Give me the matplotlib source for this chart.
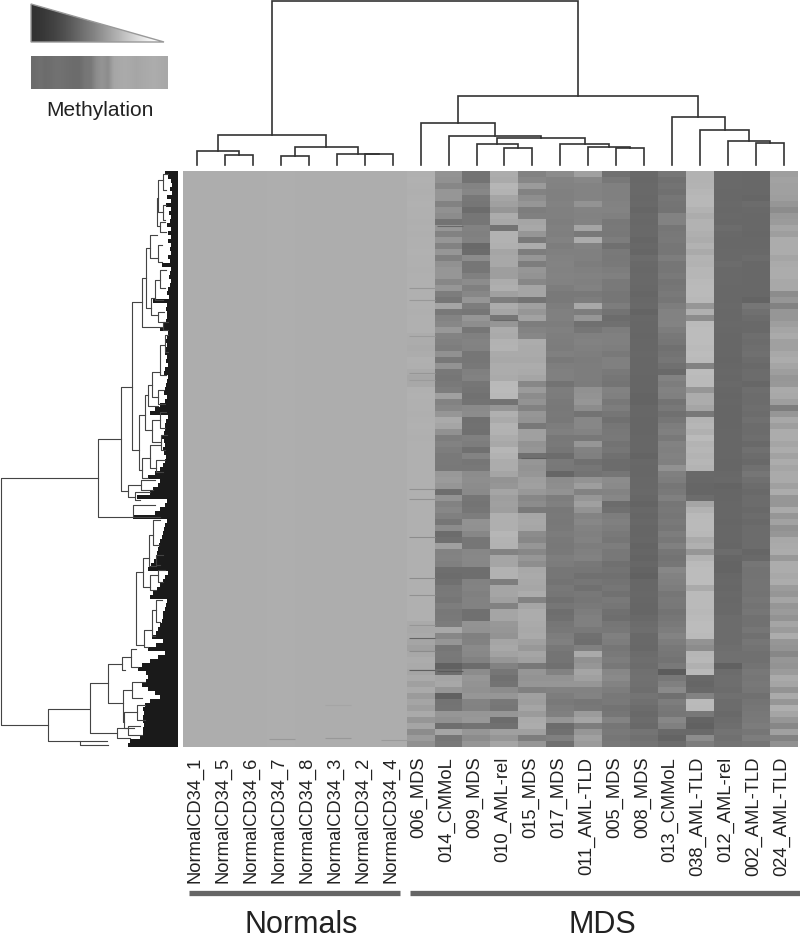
import numpy as np
import matplotlib
matplotlib.use("Agg")
import matplotlib.pyplot as plt
from matplotlib.patches import Polygon

plt.rcParams['font.family'] = ['Liberation Sans', 'DejaVu Sans']

# Sample names, in dendrogram order
sample_names = ["NormalCD34_1", "NormalCD34_5", "NormalCD34_6", "NormalCD34_7",
                "NormalCD34_8", "NormalCD34_3", "NormalCD34_2", "NormalCD34_4",
                "006_MDS", "014_CMMoL", "009_MDS", "010_AML-rel", "015_MDS", "017_MDS",
                "011_AML-TLD", "005_MDS", "008_MDS", "013_CMMoL", "038_AML-TLD",
                "012_AML-rel", "002_AML-TLD", "024_AML-TLD"]

# Grey level per row block (96 blocks, top to bottom), one list per MDS sample
mds_006 = [176,177,176,175,176,177,176,176,175,176,175,176,
           176,177,176,176,175,176,176,176,176,176,176,175,
           176,176,176,172,172,170,172,176,175,170,166,168,
           176,177,176,176,175,176,177,176,175,176,176,176,
           176,176,176,176,176,176,176,176,176,176,176,176,
           176,176,176,176,176,176,176,176,176,176,176,176,
           176,176,176,170,168,170,165,160,168,172,170,165,
           170,160,170,155,165,158,170,150,165,140,155,145]
mds_014 = [148,145,135,150,150,130,145,140,115,150,130,150,
           130,150,128,145,150,150,135,150,125,118,165,120,
           132,135,152,132,128,125,145,120,148,120,118,122,
           125,160,130,135,150,170,165,145,125,130,125,122,
           122,120,152,155,150,110,148,130,135,128,118,140,
           108,112,160,130,132,128,110,108,112,120,122,118,
           125,120,122,124,168,135,150,118,122,120,98,110,
           165,168,150,98,115,116,150,145,110,165,118,122]
mds_009 = [115,115,132,135,120,118,108,118,118,130,128,130,
           105,108,140,118,118,128,140,128,135,150,125,118,
           150,142,118,128,132,130,118,118,120,128,130,118,
           116,114,115,138,140,112,113,112,128,125,112,132,
           118,120,140,142,140,138,118,116,118,125,146,145,
           135,118,118,135,136,135,110,110,130,132,128,130,
           130,112,112,148,146,128,130,138,136,130,108,140,
           150,148,145,150,132,130,150,152,115,150,140,150]
mds_010 = [172,170,182,180,165,160,150,172,168,115,178,178,
           176,165,168,168,158,158,172,175,160,125,172,165,
           118,150,172,170,178,180,170,168,172,172,170,185,
           186,184,115,150,176,170,180,178,172,168,182,178,
           172,172,165,148,150,165,158,160,158,175,175,175,
           182,180,178,130,165,165,178,178,125,165,165,160,
           130,165,165,152,150,148,165,168,162,150,130,118,
           112,115,140,150,120,118,150,108,112,160,150,165]
mds_015 = [130,135,155,130,142,150,125,128,165,168,150,122,
           172,125,150,125,150,148,135,165,165,115,160,150,
           162,125,132,135,172,170,170,168,172,170,165,135,
           155,140,148,130,150,148,120,160,160,148,150,112,
           150,148,150,158,160,152,135,140,122,166,168,166,
           140,135,150,135,150,142,168,170,168,166,172,130,
           165,172,172,170,168,170,160,152,165,160,120,150,
           148,150,128,160,158,165,155,170,172,160,125,150]
mds_017 = [140,132,130,128,128,130,128,128,126,128,127,130,
           125,128,130,132,130,132,130,125,122,122,125,128,
           128,125,128,126,125,124,128,122,126,128,128,115,
           125,124,122,120,122,120,125,128,120,122,118,108,
           122,120,102,140,142,146,125,128,120,122,120,122,
           124,122,120,122,126,124,118,118,115,120,118,112,
           118,110,112,118,120,125,128,120,116,116,112,130,
           148,150,130,125,122,125,128,150,108,112,128,112]
mds_011 = [160,135,132,132,132,148,132,130,132,165,122,172,
           130,128,128,125,128,130,128,130,122,125,168,125,
           150,112,118,128,130,128,126,124,125,125,125,124,
           145,148,150,140,115,135,135,132,120,150,130,128,
           112,118,115,148,158,130,150,160,148,132,135,130,
           128,130,125,128,130,120,118,112,118,112,120,118,
           122,125,128,128,122,112,110,128,170,145,150,165,
           160,150,130,132,118,120,155,165,125,150,160,155]
mds_005 = [112,120,128,128,128,130,132,128,120,122,120,125,
           112,122,120,122,125,128,122,122,118,118,125,115,
           108,112,125,128,128,126,122,128,128,122,118,116,
           130,128,120,125,118,112,118,120,122,115,118,112,
           108,108,118,140,138,132,135,108,112,125,128,125,
           122,118,125,120,120,112,115,112,115,118,114,122,
           118,112,110,118,120,128,125,118,122,125,120,135,
           138,132,125,120,122,115,118,132,118,122,118,120]
mds_008 = [105,104,106,106,104,106,102,106,104,106,105,102,
           104,102,108,106,104,105,105,104,102,104,106,100,
           104,103,103,102,103,103,104,103,103,103,102,102,
           102,100,100,103,103,102,102,102,103,103,103,100,
           104,103,103,104,104,105,103,100,104,102,104,102,
           102,103,100,102,100,103,100,98,103,103,104,103,
           102,102,105,108,110,106,105,104,108,110,108,112,
           114,112,110,116,112,108,105,108,105,116,112,115]
mds_013 = [118,112,115,112,118,116,115,130,130,118,120,122,
           118,118,125,118,118,122,116,118,122,118,125,130,
           130,132,125,120,118,112,115,118,112,105,130,125,
           130,128,115,120,112,118,125,128,122,130,128,130,
           128,145,128,125,118,122,128,118,120,118,122,118,
           125,120,128,118,115,118,135,130,128,125,118,122,
           120,115,118,122,125,132,125,120,118,115,122,92,
           120,128,138,112,125,120,118,135,128,105,100,108]
mds_038 = [178,178,180,182,184,184,178,172,178,178,175,172,
           178,170,180,178,182,182,185,186,186,184,150,176,
           140,186,188,188,188,186,188,186,130,188,186,186,
           150,172,172,165,120,180,182,176,186,180,182,180,
           182,180,105,104,102,102,108,165,178,185,186,186,
           184,170,176,150,178,186,188,188,188,170,186,186,
           186,184,186,188,188,186,148,140,182,184,176,185,
           104,102,106,130,186,185,120,100,98,105,140,125]
mds_012 = [106,106,105,104,104,106,104,106,104,108,105,104,
           104,106,106,108,106,106,106,104,104,104,106,104,
           104,106,104,103,103,103,103,102,103,104,103,105,
           103,102,103,102,102,102,102,103,103,103,103,103,
           102,102,104,105,100,102,102,103,103,103,102,103,
           103,103,102,108,102,100,100,103,104,103,105,104,
           105,106,108,108,108,108,108,110,112,112,98,108,
           110,110,108,112,108,108,105,108,110,115,112,115]
mds_002 = [104,104,104,104,102,108,106,104,104,104,103,104,
           104,106,108,104,104,104,104,104,104,100,118,112,
           108,106,105,110,108,110,112,108,106,108,108,103,
           110,108,108,110,108,112,108,108,110,105,112,108,
           106,112,118,112,108,105,108,108,106,108,106,108,
           108,108,108,102,106,118,115,115,116,116,115,118,
           115,118,114,114,118,112,118,115,112,112,115,120,
           118,120,118,112,116,118,120,122,124,118,125,118]
mds_024 = [158,162,160,160,158,150,140,152,155,165,158,172,
           172,172,165,170,172,172,168,168,140,150,130,150,
           150,158,165,170,160,160,168,172,165,158,150,152,
           170,168,158,125,150,168,158,172,172,165,172,162,
           172,165,170,170,160,172,150,150,170,150,162,145,
           150,168,170,172,152,172,172,168,172,155,150,165,
           150,155,148,165,155,172,150,148,135,150,148,155,
           170,165,148,170,150,175,165,150,135,160,130,145]

# Normal samples are nearly flat
normal_levels = [173, 173, 173, 174, 173, 173, 173, 173]

# Thin lines narrower than a row block: sample index, row position, grey level
thin_cols = [3, 5, 7, 5, 8, 8, 8, 8, 8, 8, 8, 8, 8, 8, 8, 8, 8, 8, 9, 9, 11, 12]
thin_rows = [94.2, 94.0, 94.3, 88.5, 19.0, 21.0, 27.0, 33.2, 34.4, 52.5, 54.1, 60.5, 67.4, 70.1,
             75.2, 77.4, 79.5, 82.6, 8.6, 82.9, 24.4, 47.4]
thin_levels = [152, 152, 155, 165, 150, 152, 155, 150, 155, 145, 145, 140, 140, 145,
               150, 100, 140, 95, 105, 90, 105, 95]

# Column dendrogram: leaves are 0-21, each merge makes the next id from 22 up
merge_left = [1, 0, 3, 6, 5, 24, 23, 11, 10, 15, 14, 13, 30, 9, 8, 20, 19, 18, 17, 36, 28]
merge_right = [2, 22, 4, 7, 25, 26, 27, 12, 29, 16, 31, 32, 33, 34, 35, 21, 37, 38, 39, 40, 41]
merge_height = [10, 14, 9, 11, 11.5, 18, 30, 17, 21, 17, 18, 21, 27, 29, 42, 22, 24, 35, 48, 69, 164]

# Row dendrogram branches in picture units: stem, two arms, and where each arm ends
row_stem = [1,48,98,121,132,142,146,150,157,158,163,163,160,158,151,155,160,158,163,139,
            145,148,152,160,165,158,152,160,161,142,150,156,128,141,135,133,90,108,122,131,
            136,143,144,149,153,156,150,158,152,156,123,132,124,137,117,80,128]
row_top = [478,709,439,387,302,278,248,235,198,180,174,205,222,245,298,280,270,312,322,415,
           395,385,372,345,335,390,420,412,435,458,445,460,485,480,492,505,683,664,657,649,
           572,558,630,535,520,555,575,570,610,600,690,682,712,705,728,741,726]
row_bottom = [725,741,517,491,450,327,308,258,226,212,190,220,232,262,315,300,288,322,330,470,
              430,406,397,375,352,404,442,428,450,478,468,472,497,490,500,517,733,703,670,667,
              645,587,647,566,545,565,590,582,636,622,722,698,728,720,738,745,735]
row_top_end = [98,89,121,132,142,146,150,157,158,163,168,166,165,162,155,160,166,164,168,145,
               148,152,160,165,168,164,160,166,167,150,160,165,141,155,150,155,108,122,131,136,
               143,149,152,153,160,163,158,165,156,162,132,145,137,145,128,107,140]
row_bottom_end = [48,80,133,128,139,163,151,158,160,163,166,165,166,162,158,163,165,166,168,142,
                  152,158,158,166,168,165,161,165,165,148,156,163,135,153,140,160,117,123,125,138,
                  144,150,148,156,159,160,156,163,155,160,124,142,134,145,130,108,142]

# Left edge of the black mass of leaves, every 4 px from the top of the heatmap
leaf_edge = [165,168,171,172,170,172,167,171,166,171,169,171,
             170,167,171,168,171,168,171,170,171,168,170,162,
             171,170,169,171,170,168,167,169,153,167,166,167,
             167,166,164,160,168,167,166,167,165,165,167,166,
             168,165,164,168,167,166,165,164,167,165,160,155,
             150,168,166,165,165,164,162,164,165,163,164,166,
             165,163,160,155,148,160,158,153,150,137,167,165,
             160,155,133,167,165,164,163,162,160,159,158,157,
             156,154,151,148,168,165,163,160,157,153,150,167,
             166,165,163,163,162,160,158,156,152,163,156,148,
             165,158,150,142,138,146,148,146,142,148,155,160,
             150,145,143,144,143,143,144,143,143,140,130,128]

# Legend
wedge_greys = [50,55,62,70,80,92,105,118,130,145,160,175,190,205,220,235,248,255]
strip_greys = [108,112,108,110,114,112,110,108,108,118,120,140,148,140,165,168,170,168,165,168,170,172,170,168]


def axes_px(left, top, right, bottom):
    return fig.add_axes([left / 800, 1 - bottom / 940, (right - left) / 800, (bottom - top) / 940])


fig = plt.figure(figsize=(8, 9.4), dpi=100)

# Heatmap
normal_columns = [[level] * 96 for level in normal_levels]
mds_columns = [mds_006, mds_014, mds_009, mds_010, mds_015, mds_017, mds_011, mds_005,
               mds_008, mds_013, mds_038, mds_012, mds_002, mds_024]
heat = np.array(normal_columns + mds_columns).T

ax_heat = axes_px(183, 171, 798, 747)
ax_heat.imshow(heat, cmap="gray", vmin=0, vmax=255, aspect="auto", interpolation="nearest")
for c, r, v in zip(thin_cols, thin_rows, thin_levels):
    ax_heat.hlines(r, c - 0.42, c + 0.5, color=str(v / 255), lw=0.8)
ax_heat.set_xlim(-0.5, 21.5)
ax_heat.set_ylim(95.5, -0.5)
ax_heat.set_xticks([])
ax_heat.set_yticks([])
for s in ax_heat.spines.values():
    s.set_visible(False)
for i, name in enumerate(sample_names):
    ax_heat.annotate(name, xy=(i, 0), xycoords=("data", "axes fraction"), xytext=(-1.5, -7),
                     textcoords="offset points", rotation=90, ha="center", va="top",
                     fontsize=13.2, color="#222222")

# Column dendrogram
ax_top = axes_px(183, 0, 798, 165)
ax_top.set_xlim(-0.5, 21.5)
ax_top.set_ylim(0, 165)
ax_top.axis("off")
node_x = {i: float(i) for i in range(22)}
node_h = {i: 0.0 for i in range(22)}
for k, (a, b, h) in enumerate(zip(merge_left, merge_right, merge_height)):
    ax_top.plot([node_x[a], node_x[a], node_x[b], node_x[b]], [node_h[a], h, h, node_h[b]],
                color="#333333", lw=1.2, solid_joinstyle="miter", clip_on=False)
    node_x[22 + k] = (node_x[a] + node_x[b]) / 2
    node_h[22 + k] = h

# Row dendrogram
ax_left = axes_px(0, 165, 178, 750)
ax_left.set_xlim(0, 178)
ax_left.set_ylim(750, 165)
ax_left.axis("off")
for x, t, b, te, be in zip(row_stem, row_top, row_bottom, row_top_end, row_bottom_end):
    ax_left.plot([te, x, x, be], [t, t, b, b], color="#444444", lw=0.8, clip_on=False)
edge_y = 171 + 4 * np.arange(len(leaf_edge) + 1)
ax_left.fill_betweenx(edge_y, leaf_edge + leaf_edge[-1:], 178, step="post", color="#1a1a1a", lw=0)

# Legend wedge and strip
ax_wedge = axes_px(31, 4, 164, 42)
im = ax_wedge.imshow([wedge_greys], cmap="gray", vmin=0, vmax=255, aspect="auto",
                     extent=(0, 1, 0, 1), interpolation="bilinear")
wedge = Polygon([(0, 1), (0, 0), (1, 0)], transform=ax_wedge.transData, fill=False,
                edgecolor="#999999", lw=1.0, clip_on=False)
ax_wedge.add_patch(wedge)
im.set_clip_path(wedge)
ax_wedge.axis("off")

ax_strip = axes_px(31, 56, 167, 89)
ax_strip.imshow([strip_greys], cmap="gray", vmin=0, vmax=255, aspect="auto", interpolation="bilinear")
ax_strip.axis("off")

# Page level text and group bars
page = fig.add_axes([0, 0, 1, 1], facecolor="none")
page.set_xlim(0, 800)
page.set_ylim(940, 0)
page.axis("off")
page.text(99.5, 110, "Methylation", fontsize=15, ha="center", va="center", color="#222222")
page.plot([189, 400], [892.5, 892.5], color="#666666", lw=3.8, solid_capstyle="butt")
page.plot([410, 800], [892.5, 892.5], color="#666666", lw=3.8, solid_capstyle="butt")
page.text(301, 933, "Normals", fontsize=22, ha="center", va="baseline", color="#222222")
page.text(602, 933, "MDS", fontsize=22, ha="center", va="baseline", color="#222222")

plt.savefig("out.png", dpi=100)
